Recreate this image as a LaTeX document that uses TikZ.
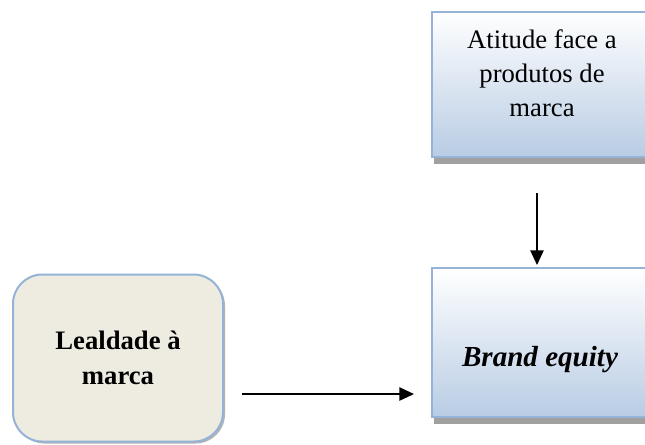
\documentclass[tikz,border=0pt]{standalone}
\usepackage{fontspec}
\setmainfont{Liberation Serif}
\usetikzlibrary{positioning,arrows.meta,shadows}
\definecolor{boxline}{HTML}{95B3D7}
\definecolor{boxblue}{HTML}{B8CCE4}
\definecolor{boxtan}{HTML}{EEECE1}
\definecolor{shadowgray}{HTML}{A0A0A0}

\begin{document}
\begin{tikzpicture}[x=0.75pt, y=-0.75pt,
    bluebox/.style={draw=boxline, line width=1.5pt, top color=white, bottom color=boxblue,
        minimum width=165pt,
        drop shadow={shadow xshift=1.5pt, shadow yshift=-5.25pt, fill=shadowgray, opacity=1}},
    tanbox/.style={draw=boxline, line width=1.5pt, fill=boxtan, rounded corners=22pt,
        minimum width=157.5pt, minimum height=125.25pt,
        drop shadow={shadow xshift=1.5pt, shadow yshift=-1.5pt, fill=shadowgray, opacity=0.8}},
    boxtext/.style={align=center, inner sep=0pt, font=\fontsize{20}{25.5}\selectfont},
    conn/.style={-{Triangle[length=11pt, width=10pt]}, line width=1.1pt}]
    \useasboundingbox (0,0) rectangle (645,444);

    % boxes
    \node[bluebox, minimum height=108.75pt] (atitude) at (542,84.5) {};
    \node[bluebox, minimum height=111.75pt] (brand) at (542,342.5) {};
    \node[tanbox] (lealdade) at (118,358) {};

    % texts
    \node[boxtext] (atitudetxt) at (542,73.5) {Atitude face a\\produtos de\\marca};
    \node[boxtext, font=\fontsize{21.8}{26}\selectfont\bfseries\itshape] (brandtxt) at (540,360) {Brand equity};
    \node[boxtext, font=\fontsize{20}{26.5}\selectfont\bfseries] (lealdadetxt) at (118,358) {Lealdade à\\marca};

    % arrows
    \coordinate (vstart) at (537,193);
    \coordinate (hstart) at (242,394);
    \draw[conn, shorten >=1.5pt] (vstart) -- (vstart |- brand.north);
    \draw[conn, shorten >=12.75pt] (hstart) -- (hstart -| brand.west);
\end{tikzpicture}
\end{document}
